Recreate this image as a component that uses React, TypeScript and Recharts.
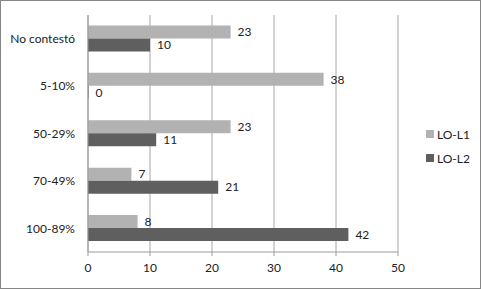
import React from 'react';
import { BarChart, Bar, XAxis, YAxis, CartesianGrid, LabelList } from 'recharts';

const categories = ['No contestó', '5-10%', '50-29%', '70-49%', '100-89%'];
const loL1 = [23, 38, 23, 7, 8];
const loL2 = [10, 0, 11, 21, 42];
const xTicks = [0, 10, 20, 30, 40, 50];
const seriesNames = ['LO-L1', 'LO-L2'];
const boundaryTicks = [0, 1, 2, 3, 4, 5];

const COLORS = ['#b2b2b2', '#5f5f5f'];
const FONT = 'Lato, sans-serif';

const data = categories.map((name, i) => ({ name, l1: loL1[i], l2: loL2[i] }));

const App: React.FC = () => {
  return (
    <div
      style={{
        position: 'absolute',
        left: 0,
        top: 0,
        width: 481,
        height: 289,
        border: '1px solid #868686',
        boxSizing: 'border-box',
        background: '#fff',
      }}
    >
      <BarChart
        width={479}
        height={287}
        data={data}
        layout="vertical"
        margin={{ top: 14, right: 82, bottom: 6, left: 0 }}
        barCategoryGap="22%"
        barGap={0}
      >
        <CartesianGrid horizontal={false} stroke="#a6a6a6" yAxisId="cat" />
        <XAxis
          type="number"
          domain={[0, 50]}
          ticks={xTicks}
          height={30}
          stroke="#9a9a9a"
          tick={{ fill: '#222', fontSize: 12, fontFamily: FONT }}
          tickSize={4}
          tickMargin={7}
        />
        <YAxis
          yAxisId="grid"
          type="number"
          domain={[0, 5]}
          ticks={boundaryTicks}
          width={0}
          stroke="#9a9a9a"
          tick={false}
          tickSize={4}
          axisLine={false}
        />
        <YAxis
          yAxisId="cat"
          type="category"
          dataKey="name"
          width={87}
          stroke="#9a9a9a"
          tickLine={false}
          tickMargin={7}
          tick={{ fill: '#222', fontSize: 12, fontFamily: FONT }}
        />
        <Bar yAxisId="cat" dataKey="l1" name={seriesNames[0]} fill={COLORS[0]} isAnimationActive={false}>
          <LabelList dataKey="l1" position="right" offset={7} fill="#222" fontSize={12} fontFamily={FONT} />
        </Bar>
        <Bar yAxisId="cat" dataKey="l2" name={seriesNames[1]} fill={COLORS[1]} minPointSize={0.5} isAnimationActive={false}>
          <LabelList dataKey="l2" position="right" offset={7} fill="#222" fontSize={12} fontFamily={FONT} />
        </Bar>
      </BarChart>
      <div
        style={{
          position: 'absolute',
          left: 425,
          top: 121,
          fontFamily: FONT,
          fontSize: 12,
          color: '#222',
        }}
      >
        {seriesNames.map((s, i) => (
          <div key={s} style={{ display: 'flex', alignItems: 'center', height: 24 }}>
            <span style={{ width: 8, height: 8, background: COLORS[i], marginRight: 3, display: 'inline-block' }} />
            {s}
          </div>
        ))}
      </div>
    </div>
  );
};

export default App;
